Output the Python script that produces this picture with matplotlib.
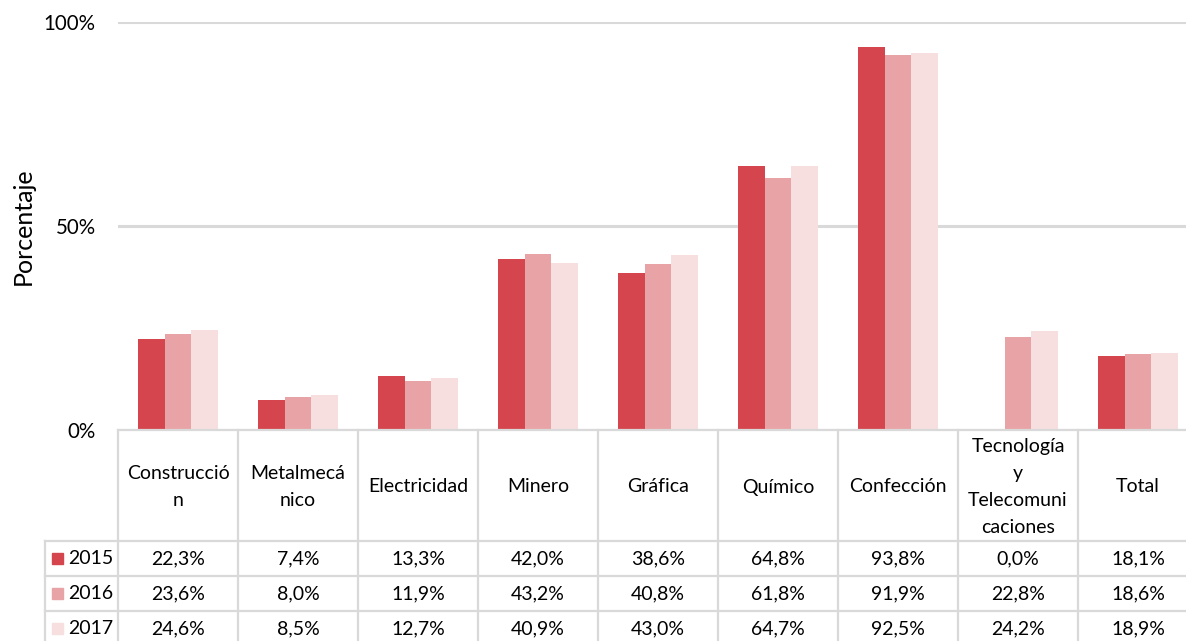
import matplotlib
matplotlib.use("Agg")
import matplotlib.pyplot as plt
import matplotlib.transforms as mtransforms
from matplotlib.patches import Rectangle

categories = ["Construcció\nn", "Metalmecá\nnico", "Electricidad", "Minero", "Gráfica",
              "Químico", "Confección", "Tecnología\ny\nTelecomuni\ncaciones", "Total"]
years = ["2015", "2016", "2017"]
v2015 = [22.3, 7.4, 13.3, 42.0, 38.6, 64.8, 93.8, 0.0, 18.1]
v2016 = [23.6, 8.0, 11.9, 43.2, 40.8, 61.8, 91.9, 22.8, 18.6]
v2017 = [24.6, 8.5, 12.7, 40.9, 43.0, 64.7, 92.5, 24.2, 18.9]
yticks = [0, 50, 100]
ytick_labels = ["0%", "50%", "100%"]
colors = ["#D4454D", "#E8A3A6", "#F7DFE0"]
series = [v2015, v2016, v2017]

plt.rcParams["font.family"] = ["Lato", "DejaVu Sans"]
W, H = 1186, 641
fig = plt.figure(figsize=(W / 100, H / 100), dpi=100)

def fx(px):
    return px / W

def fy(py):
    return 1 - py / H

ax = fig.add_axes([fx(118), fy(430), fx(1198) - fx(118), fy(22) - fy(430)])
n = len(categories)
bw = 2 / 9
for k, vals in enumerate(series):
    ax.bar([i + (k - 1) * bw for i in range(n)], vals, width=bw, color=colors[k], zorder=3)

ax.set_xlim(-0.5, n - 0.5)
ax.set_ylim(0, 100)
ax.set_yticks(yticks)
ax.set_yticklabels(ytick_labels, fontsize=14.8, color="#000000")
ax.tick_params(axis="y", length=0, pad=16)
ax.tick_params(axis="x", length=0, labelbottom=False)
ax.grid(axis="y", color="#D9D9D9", linewidth=2.2, zorder=0)
for s in ax.spines.values():
    s.set_visible(False)
ax.set_ylabel("Porcentaje", fontsize=18)
ax.yaxis.set_label_coords(-(118 - 35) / 1080, 0.5)

# data table below the plot
tr = mtransforms.blended_transform_factory(ax.transData, fig.transFigure)
grid_kw = dict(color="#D9D9D9", linewidth=1.6, transform=tr, clip_on=False, zorder=1)
legend_left = -0.5 - 73 / 120
row_tops = [541, 576, 611]
for i in range(n + 1):
    x = i - 0.5
    fig.add_artist(plt.Line2D([x, x], [fy(430), fy(H + 2)], **grid_kw))
fig.add_artist(plt.Line2D([legend_left, legend_left], [fy(row_tops[0]), fy(H + 2)], **grid_kw))
fig.add_artist(plt.Line2D([-0.5, n - 0.5], [fy(430), fy(430)], **grid_kw))
for r in row_tops:
    fig.add_artist(plt.Line2D([legend_left, n - 0.5], [fy(r), fy(r)], **grid_kw))

for i, c in enumerate(categories):
    fig.text(i, fy(487), c, transform=tr, ha="center", va="center",
             fontsize=14, linespacing=1.7)

row_centers = [558.5, 593.5, 628.5]
for k, yr in enumerate(years):
    yc = row_centers[k]
    fig.text(legend_left + 0.19, fy(yc), yr, transform=tr, ha="left", va="center", fontsize=14)
    fig.patches.append(Rectangle((fx(52), fy(yc) - 5.5 / H), 11 / W, 11 / H,
                                 transform=fig.transFigure, color=colors[k], figure=fig))
    for i, v in enumerate(series[k]):
        fig.text(i, fy(yc), f"{v:.1f}%".replace(".", ","), transform=tr,
                 ha="center", va="center", fontsize=14)

fig.savefig("out.png", dpi=100)
